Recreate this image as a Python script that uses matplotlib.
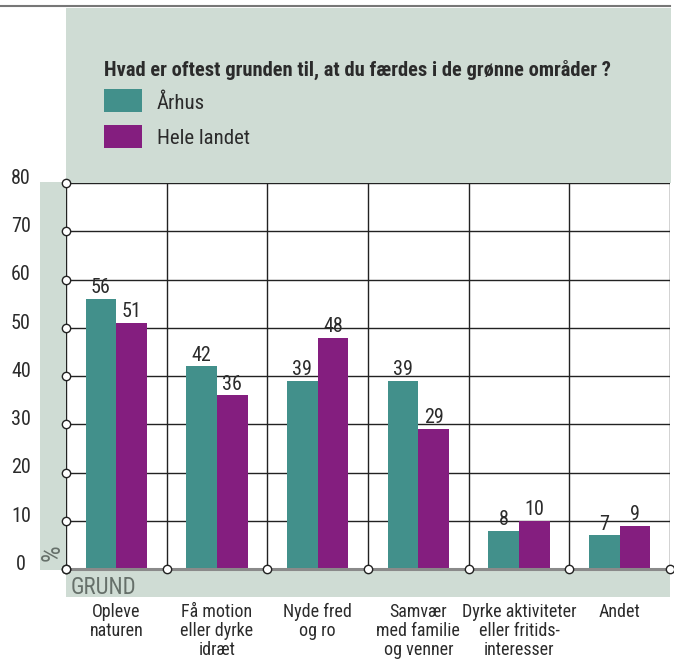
import numpy as np
import matplotlib.pyplot as plt
from matplotlib import font_manager
from matplotlib.patches import Rectangle
from matplotlib.lines import Line2D

# look for a condensed face among the installed fonts
have = {}
for f in font_manager.fontManager.ttflist:
    have.setdefault(f.name, set()).add(str(f.stretch))
fam = 'Lato'
stretch = 'normal'
for name in ['Liberation Sans Narrow', 'Roboto Condensed', 'Open Sans Condensed',
             'Noto Sans Condensed', 'Noto Sans', 'Open Sans', 'DejaVu Sans']:
    if name in have:
        cond = [s for s in have[name] if s not in ('normal', '500', 'medium')]
        if 'Narrow' in name or 'Condensed' in name:
            fam = name
            break
        if cond:
            fam = name
            stretch = 'condensed' if 'condensed' in cond else cond[0]
            break
plt.rcParams['font.family'] = [fam, 'DejaVu Sans']
plt.rcParams['font.stretch'] = stretch

# data
categories = ["Opleve\nnaturen", "Få motion\neller dyrke\nidræt", "Nyde fred\nog ro",
              "Samvær\nmed familie\nog venner", "Dyrke aktiviteter\neller fritids-\ninteresser",
              "Andet"]
aarhus = [56, 42, 39, 39, 8, 7]
hele_landet = [51, 36, 48, 29, 10, 9]
series_names = ["Århus", "Hele landet"]
yticks = [0, 10, 20, 30, 40, 50, 60, 70, 80]
title = "Hvad er oftest grunden til, at du færdes i de grønne områder ?"

TEAL = '#42908b'
PURPLE = '#841e7f'
PANEL = '#cfdcd4'
TXT = '#2b2b2b'
GRID = '#222222'
GREYTXT = '#66706a'

W, H = 674, 662
fig = plt.figure(figsize=(W / 100, H / 100), dpi=100)


def fx(x):
    return x / W


def fy(y):
    return 1 - y / H


def rect(x0, y0, x1, y1, color):
    fig.add_artist(Rectangle((fx(x0), fy(y1)), (x1 - x0) / W, (y1 - y0) / H,
                             transform=fig.transFigure, color=color, lw=0, zorder=0))


# background panels
rect(66, 7.5, 671, 183, PANEL)
rect(40, 182, 66, 570, PANEL)
rect(66, 569, 670, 597, PANEL)
fig.add_artist(Line2D([0, fx(670)], [fy(6), fy(6)], transform=fig.transFigure,
                      color='#777777', lw=1.5))

ax = fig.add_axes([fx(66), fy(569.3), (670 - 66) / W, (569.3 - 183) / H])
ax.set_xlim(0, 6)
ax.set_ylim(0, 80)
ax.set_facecolor('white')
for s in ax.spines.values():
    s.set_visible(False)
ax.set_xticks([])
ax.set_yticks([])

# grid
for v in yticks[1:]:
    ax.axhline(v, color=GRID, lw=1, zorder=1)
for i in range(7):
    ax.axvline(i, color=GRID, lw=1, zorder=1)
ax.axhline(0, color='#8a8a8a', lw=2.2, zorder=3, clip_on=False)

x = np.arange(len(categories)) + 0.5
bw = 0.305
ax.bar(x - bw / 2, aarhus, bw, color=TEAL, zorder=2)
ax.bar(x + bw / 2, hele_landet, bw, color=PURPLE, zorder=2)

for xi, a, h in zip(x, aarhus, hele_landet):
    ax.text(xi - bw / 2, a + 0.4, str(a), ha='center', va='bottom', fontsize=14.5, color=TXT)
    ax.text(xi + bw / 2, h + 0.4, str(h), ha='center', va='bottom', fontsize=14.5, color=TXT)

# markers
mk = dict(marker='o', ls='none', mfc='white', mec=GRID, ms=6, mew=1, clip_on=False, zorder=6)
ax.plot([0] * len(yticks), yticks, **mk)
ax.plot(range(7), [0] * 7, **mk)

# y tick labels
ytr = ax.get_yaxis_transform()
for v in yticks:
    ax.text((21 - 66) / 604, v + 1.0, str(v), transform=ytr, ha='center', va='center',
            fontsize=14.5, color=TXT)

# category labels
xtr = ax.get_xaxis_transform()
for xi, c in zip(x, categories):
    ax.text(xi, -34 / 386.3, c, transform=xtr, ha='center', va='top', fontsize=13,
            color=TXT, linespacing=1.05)

fig.text(fx(71), fy(587), "GRUND", ha='left', va='center', fontsize=16.5, color=GREYTXT)
fig.text(fx(53), fy(553), "%", ha='center', va='center', fontsize=19, color=GREYTXT,
         rotation=90)

# title and legend
fig.text(fx(104), fy(70), title, ha='left', va='center', fontsize=14.8, fontweight='bold',
         color=TXT)
rect(104, 89, 142, 112, TEAL)
rect(104, 125, 142, 148, PURPLE)
fig.text(fx(157), fy(103), series_names[0], ha='left', va='center', fontsize=15, color=TXT)
fig.text(fx(157), fy(139), series_names[1], ha='left', va='center', fontsize=15, color=TXT)

fig.savefig('out.png', dpi=100)
